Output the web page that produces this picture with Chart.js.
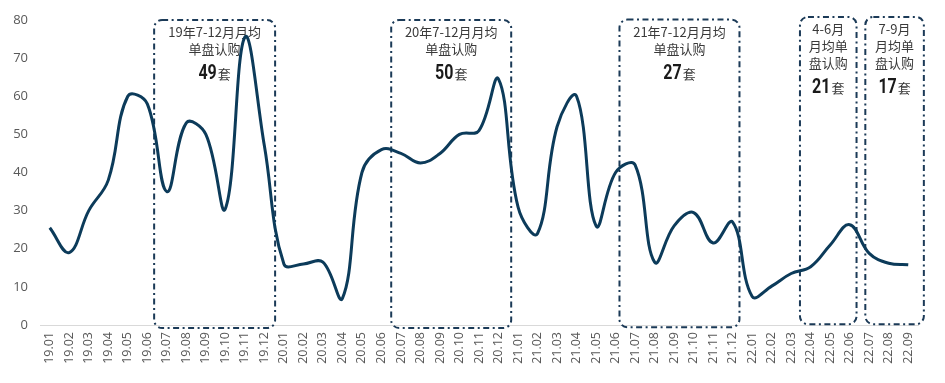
<!DOCTYPE html>
<html>
<head>
<meta charset="utf-8">
<script src="https://cdn.jsdelivr.net/npm/chart.js@4/dist/chart.umd.min.js"></script>
<style>
html,body{margin:0;padding:0;background:#fff;}
#wrap{width:945px;height:383px;}
</style>
</head>
<body>
<div id="wrap"><canvas id="c" width="945" height="383"></canvas></div>
<script>
// ---- data ----
const categories = ['19.01','19.02','19.03','19.04','19.05','19.06','19.07','19.08','19.09','19.10','19.11','19.12',
  '20.01','20.02','20.03','20.04','20.05','20.06','20.07','20.08','20.09','20.10','20.11','20.12',
  '21.01','21.02','21.03','21.04','21.05','21.06','21.07','21.08','21.09','21.10','21.11','21.12',
  '22.01','22.02','22.03','22.04','22.05','22.06','22.07','22.08','22.09'];
const subscriptions = [25.5,19,30,38,60,58,35,53,50,30.5,75.5,47,
  16,16,16.5,7,40,46,45,42.5,45,50,51,64.5,
  31,24,52,60,26,40,42,16.5,26,29.5,21.5,27,
  7.5,10.2,13.5,15.3,21,26.3,18.8,16.2,15.8];
const yTicks = [0,10,20,30,40,50,60,70,80];
const boxTextLines = [
  ['19年7-12月月均','单盘认购'],
  ['20年7-12月月均','单盘认购'],
  ['21年7-12月月均','单盘认购'],
  ['4-6月','月均单','盘认购'],
  ['7-9月','月均单','盘认购']
];
const boxNumbers = ['49','50','27','21','17'];
const boxUnit = '套';

// ---- box geometry (category index units / value units) ----
const boxGeom = [
  {x0:5.35, x1:11.55, top:80.0, bottom:-0.8},
  {x0:17.5, x1:23.65, top:80.0, bottom:-0.8},
  {x0:29.2, x1:35.35, top:80.1, bottom:-0.6},
  {x0:38.45, x1:41.35, top:80.8, bottom:0.2},
  {x0:41.8, x1:44.8, top:80.8, bottom:0.2}
];

function roundRect(ctx,x,y,w,h,r){
  ctx.beginPath();
  ctx.moveTo(x+r,y);
  ctx.lineTo(x+w-r,y);
  ctx.arcTo(x+w,y,x+w,y+r,r);
  ctx.lineTo(x+w,y+h-r);
  ctx.arcTo(x+w,y+h,x+w-r,y+h,r);
  ctx.lineTo(x+r,y+h);
  ctx.arcTo(x,y+h,x,y+h-r,r);
  ctx.lineTo(x,y+r);
  ctx.arcTo(x,y,x+r,y,r);
  ctx.closePath();
}

const NUM_FONT = 'bold 20px Roboto, "Open Sans", sans-serif';
const NUM_SQUEEZE = 0.8;
const CJK_FONT = '13px "Noto Sans CJK SC", "Noto Sans", sans-serif';

const boxPlugin = {
  id:'boxes',
  beforeDatasetsDraw(chart){
    const ctx = chart.ctx, xs = chart.scales.x, ys = chart.scales.y;
    ctx.save();
    boxGeom.forEach((b,i)=>{
      const x0 = xs.getPixelForValue(b.x0), x1 = xs.getPixelForValue(b.x1);
      const y0 = ys.getPixelForValue(b.top), y1 = ys.getPixelForValue(b.bottom);
      ctx.setLineDash([6,3.5,2,3.5]);
      ctx.lineWidth = 2;
      ctx.strokeStyle = '#1b3a57';
      roundRect(ctx,x0,y0,x1-x0,y1-y0,8);
      ctx.stroke();
      ctx.setLineDash([]);
      const cx = (x0+x1)/2;
      ctx.fillStyle = '#3a3a3a';
      ctx.textAlign = 'center';
      ctx.textBaseline = 'middle';
      ctx.font = CJK_FONT;
      const lines = boxTextLines[i];
      lines.forEach((t,k)=>{ ctx.fillText(t, cx, y0 + 12 + k*17); });
      const numY = y0 + 12 + lines.length*17 + 5;
      ctx.font = NUM_FONT;
      const nw = ctx.measureText(boxNumbers[i]).width * NUM_SQUEEZE;
      ctx.font = CJK_FONT;
      const uw = ctx.measureText(boxUnit).width;
      const start = cx - (nw+uw+1)/2;
      ctx.textAlign = 'left';
      ctx.textBaseline = 'alphabetic';
      ctx.fillStyle = '#1a1a1a';
      ctx.font = NUM_FONT;
      ctx.save();
      ctx.translate(start, numY + 8);
      ctx.scale(NUM_SQUEEZE, 1);
      ctx.fillText(boxNumbers[i], 0, 0);
      ctx.restore();
      ctx.fillStyle = '#3a3a3a';
      ctx.font = CJK_FONT;
      ctx.fillText(boxUnit, start+nw+1, numY + 8);
    });
    ctx.restore();
  }
};

new Chart(document.getElementById('c'), {
  type:'line',
  data:{
    labels:categories,
    datasets:[{
      data:subscriptions,
      borderColor:'#0c3b5a',
      borderWidth:3,
      pointRadius:0,
      tension:0.4,
      fill:false
    }]
  },
  options:{
    responsive:false,
    devicePixelRatio:1,
    animation:false,
    layout:{padding:{top:20,right:27,left:0,bottom:0}},
    plugins:{legend:{display:false},tooltip:{enabled:false}},
    scales:{
      x:{
        type:'category',
        offset:true,
        grid:{display:false,drawTicks:false},
        border:{display:true,color:'#d9d9d9',width:1},
        ticks:{
          autoSkip:false,minRotation:90,maxRotation:90,
          color:'#595959',padding:7,
          font:{family:'"Open Sans", "Noto Sans", sans-serif',size:12.5}
        },
        afterFit(s){ s.height = 58; }
      },
      y:{
        min:0,max:80,
        afterBuildTicks(s){ s.ticks = yTicks.map(v=>({value:v})); },
        grid:{display:false,drawTicks:false},
        border:{display:false},
        ticks:{color:'#595959',padding:12,font:{family:'"Open Sans", "Noto Sans", sans-serif',size:13}},
        afterFit(s){ s.width = 40; }
      }
    }
  },
  plugins:[boxPlugin]
});
</script>
</body>
</html>
